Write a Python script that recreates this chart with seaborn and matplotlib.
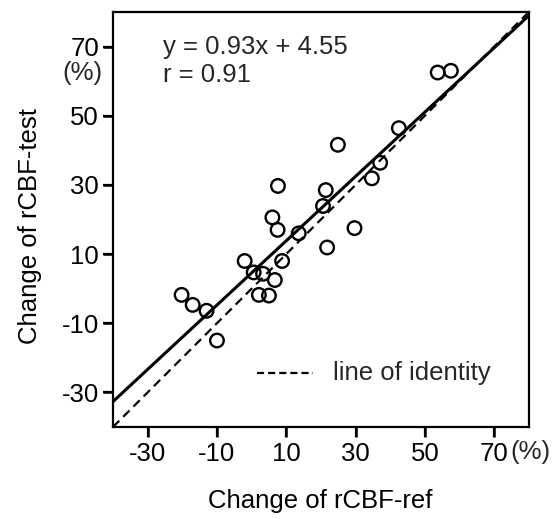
import matplotlib
matplotlib.use("Agg")
import matplotlib.pyplot as plt
import seaborn as sns
import numpy as np
import pandas as pd

# Data
ref_change = [53.7, 57.5, 42.5, 24.9, 7.6, 21.4, 37.1, 34.7,
              20.6, 6.0, 7.5, 13.6, 29.7, 21.8, -2.0, 8.8, 0.6, 3.3,
              6.7, 2.1, 5.0, -20.2, -17.0, -13.0, -10.0]
test_change = [62.5, 63.0, 46.4, 41.6, 29.7, 28.5, 36.4, 31.9,
               23.9, 20.6, 17.0, 16.0, 17.5, 11.9, 8.0, 8.0, 4.7, 4.3,
               2.5, -1.8, -2.0, -1.8, -4.7, -6.4, -15.0]
slope = 0.93
intercept = 4.55
r_value = 0.91
x_ticks = [-30, -10, 10, 30, 50, 70]
y_ticks = [-30, -10, 10, 30, 50, 70]
x_range = [-40, 80]

sns.set_theme(style="ticks")
plt.rcParams['font.family'] = ['Liberation Sans', 'DejaVu Sans']
plt.rcParams.update({
    'axes.linewidth': 1.6,
    'xtick.major.size': 7, 'ytick.major.size': 7,
    'xtick.major.width': 1.6, 'ytick.major.width': 1.6,
    'xtick.color': 'black', 'ytick.color': 'black',
    'xtick.bottom': True, 'ytick.left': True,
    'xtick.direction': 'out', 'ytick.direction': 'out',
})

FS = 18.5
fig = plt.figure(figsize=(5.52, 5.19), dpi=100)
ax = fig.add_axes([0.2047, 0.1773, 0.7533, 0.7996])

df = pd.DataFrame({"ref": ref_change, "test": test_change})
sns.scatterplot(data=df, x="ref", y="test", ax=ax, marker="o", s=95,
                facecolor="none", edgecolor="black", linewidth=1.7, zorder=3)

xs = np.array(x_range, dtype=float)
ax.plot(xs, slope * xs + intercept, color="black", lw=2.2, zorder=2)
ax.plot(xs, xs, color="black", lw=1.6, ls=(0, (4, 2.5)), zorder=2)

# legend-like entry
ax.plot([1.5, 17.6], [-24.3, -24.3], color="black", lw=1.6, ls=(0, (3.2, 1.8)))
ax.text(23.4, -24.3, "line of identity", fontsize=FS, va="center", ha="left")

ax.text(-25.6, 70, f"y = {slope}x + {intercept}", fontsize=FS, va="center", ha="left")
ax.text(-25.6, 61.8, f"r = {r_value}", fontsize=FS, va="center", ha="left")

ax.set_xlim(-40, 80)
ax.set_ylim(-40, 80)
ax.set_xticks(x_ticks)
ax.set_yticks(y_ticks)
ax.set_xticklabels([str(t) for t in x_ticks], fontsize=FS)
ax.set_yticklabels([str(t) for t in y_ticks], fontsize=FS)
ax.tick_params(axis="x", pad=4)
ax.tick_params(axis="y", pad=3)
for sp in ax.spines.values():
    sp.set_color("black")
    sp.set_visible(True)
    sp.set_linewidth(1.6)

# explicit outward tick marks at the tick positions
tick_len = 0.024
for t in x_ticks:
    ax.plot([t, t], [0, -tick_len], transform=ax.get_xaxis_transform(),
            clip_on=False, color="black", lw=1.8, solid_capstyle="butt", zorder=5)
for t in y_ticks:
    ax.plot([0, -tick_len], [t, t], transform=ax.get_yaxis_transform(),
            clip_on=False, color="black", lw=1.8, solid_capstyle="butt", zorder=5)

ax.set_xlabel("Change of rCBF-ref", fontsize=FS, color="black")
ax.set_ylabel("Change of rCBF-test", fontsize=FS, color="black")
ax.xaxis.set_label_coords(0.498, -0.15)
ax.yaxis.set_label_coords(-0.171, 0.484)

# (%) unit labels
fig.text(510 / 552, 1 - 452 / 519, "(%)", fontsize=FS, ha="left", va="center")
fig.text(82 / 552, 1 - 73 / 519, "(%)", fontsize=FS, ha="center", va="center")

fig.savefig("out.png", dpi=100)
